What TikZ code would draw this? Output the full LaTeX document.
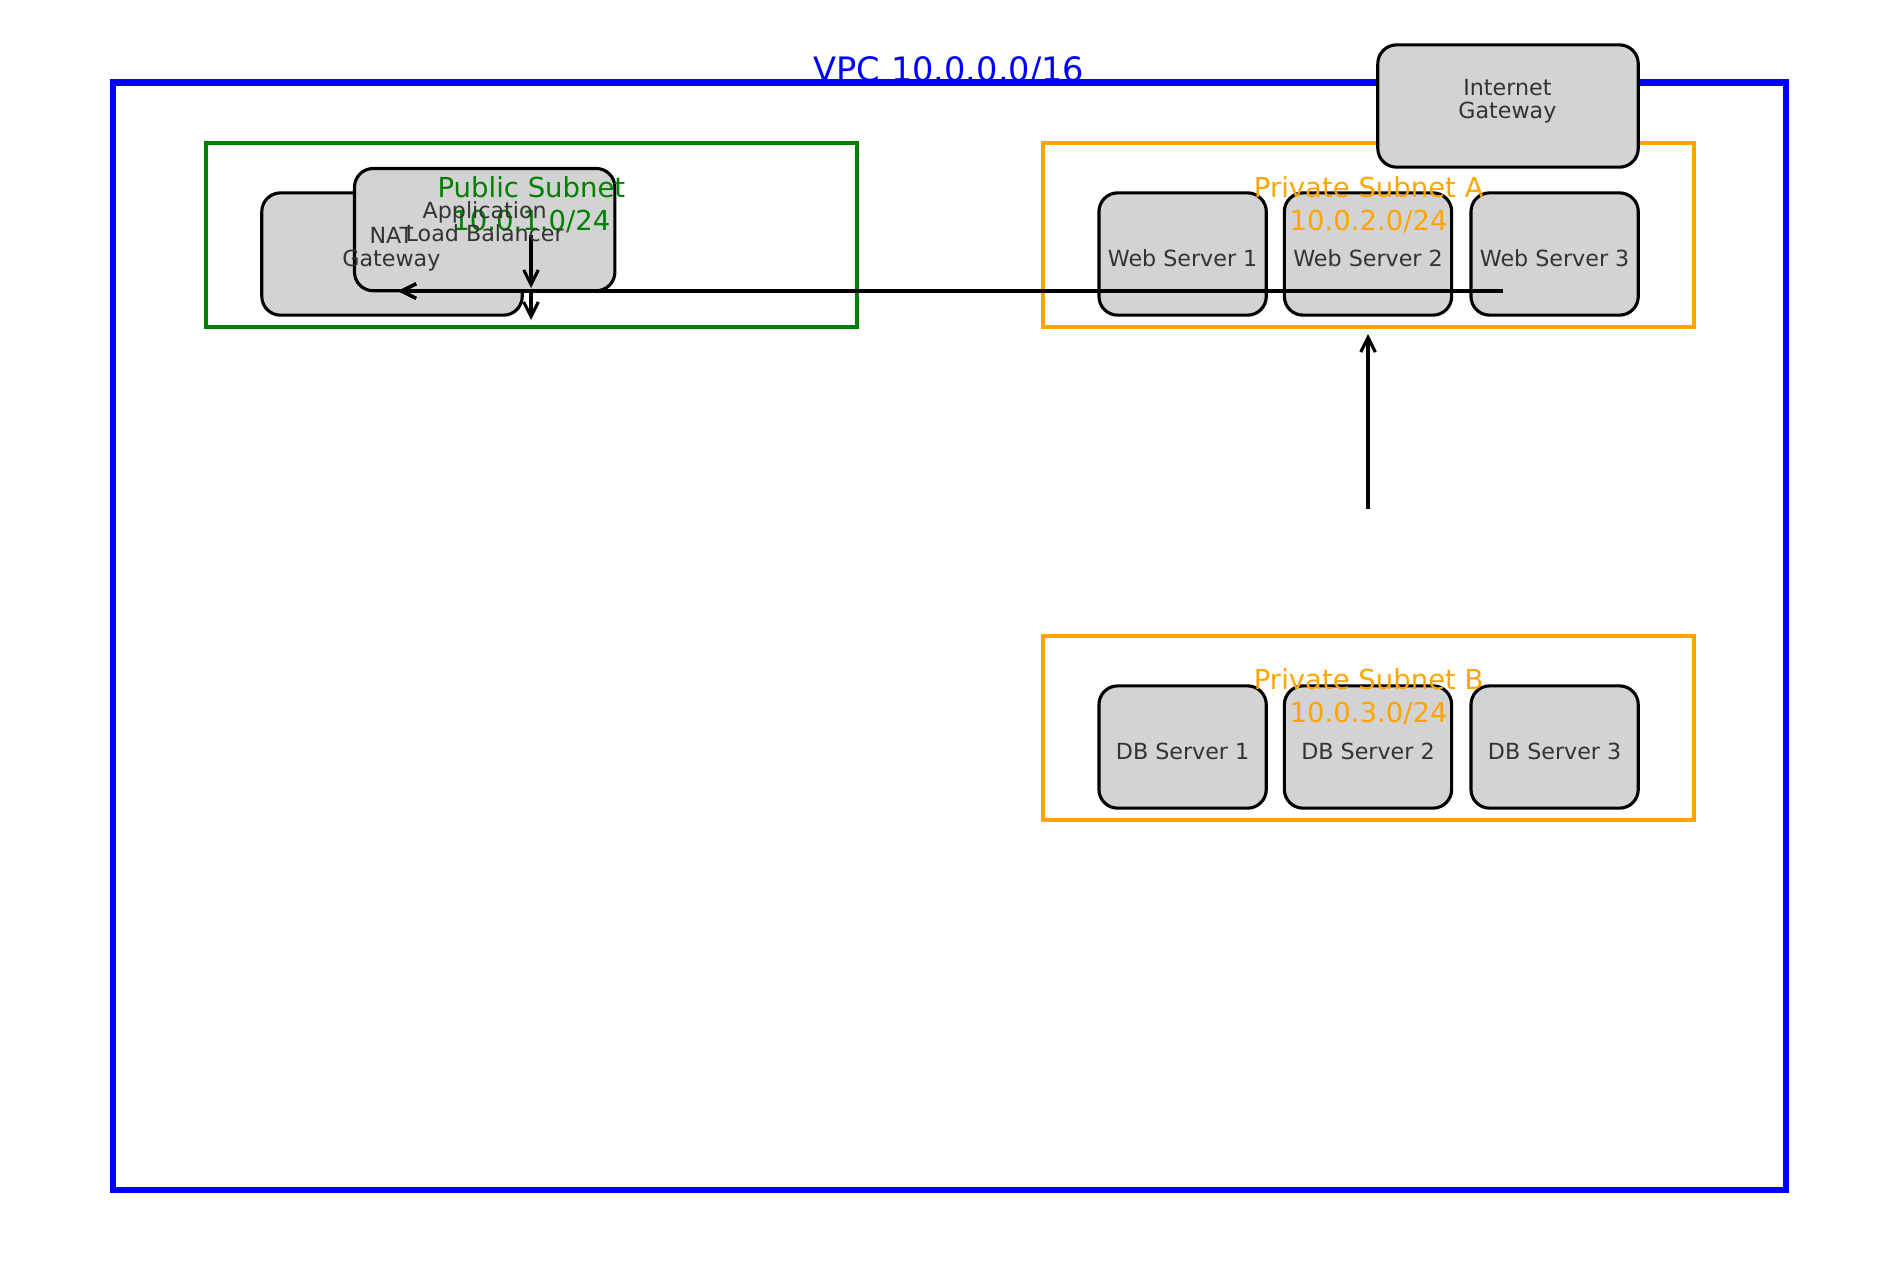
\documentclass[tikz,border=0pt]{standalone}
\usepackage{fontspec}
\setmainfont{DejaVu Sans}
\usetikzlibrary{arrows.meta}
\definecolor{vpcblue}{RGB}{0,0,255}
\definecolor{pubgreen}{RGB}{0,128,0}
\definecolor{privorange}{RGB}{255,165,0}
\definecolor{boxgray}{RGB}{211,211,211}
\definecolor{labelgray}{HTML}{333333}
\tikzset{
	box/.style={draw=black, fill=boxgray, line width=1.5bp, rounded corners=9bp, inner sep=0pt},
	widebox/.style={box, minimum width=125bp, minimum height=58.7bp},
	srvbox/.style={box, minimum width=80.3bp, minimum height=58.7bp},
	boxtext/.style={text=labelgray, align=center, inner sep=0pt, font=\fontsize{10.7}{11.04}\selectfont},
	nettext/.style={align=center, inner sep=0pt, font=\fontsize{13.25}{15.84}\selectfont},
	link/.style={draw=black, line width=1.5bp, -{Straight Barb[length=7bp,width=7bp]}}
}

\begin{document}
\begin{tikzpicture}[x=0.48bp, y=-0.48bp]
		%%%%% START %%%%%
		\useasboundingbox (0,0) rectangle (1900,1272);
		
		\draw[vpcblue, line width=3bp] (112.7,82.4) rectangle (1786,1190);
		\draw[pubgreen, line width=2bp] (206,143) rectangle (856.7,327.2);
		\draw[privorange, line width=2bp] (1043.3,143) rectangle (1694,327.2);
		\draw[privorange, line width=2bp] (1043.3,636.1) rectangle (1694,820.3);
		
		\node[widebox] (nat) at (392,254) {};
		\node[widebox] (alb) at (484.7,229.6) {};
		\node[widebox] (igw) at (1508,106) {};
		\foreach \i/\x in {1/1182.6, 2/1368, 3/1554.6} {
			\node[srvbox] (web\i) at (\x,254) {};
			\node[srvbox] (db\i) at (\x,747) {};
		}
		
		\coordinate (albout) at (531,235);
		\coordinate (albin) at (531,288);
		\coordinate (pubin) at (531,320);
		\coordinate (natin) at (398,291);
		\coordinate (dbout) at (1368,509);
		\coordinate (webin) at (1368,334);
		\draw[link] (albout) -- (albin);
		\draw[link] (531,291) -- (pubin);
		\foreach \i/\x in {1/1130, 2/1316, 3/1503} {
			\coordinate (web\i out) at (\x,291);
			\draw[link] (web\i out) -- (natin);
		}
		\draw[link] (dbout) -- (webin);
		
		\node[anchor=base, inner sep=0pt, text=vpcblue, font=\fontsize{16.2}{19}\selectfont] (vpclbl) at (949,81.5) {VPC 10.0.0.0/16};
		\node[nettext, text=pubgreen] (publbl) at (531.4,205) {Public Subnet\\10.0.1.0/24};
		\node[nettext, text=privorange] (privalbl) at (1368.7,204.5) {Private Subnet A\\10.0.2.0/24};
		\node[nettext, text=privorange] (privblbl) at (1368.7,697) {Private Subnet B\\10.0.3.0/24};
		
		\node[boxtext] (natlbl) at (391.4,249) {NAT\\Gateway};
		\node[boxtext] (alblbl) at (484.7,221.7) {Application\\Load Balancer};
		\node[boxtext] (igwlbl) at (1507.4,101) {Internet\\Gateway};
		\foreach \i/\x in {1/1182.6, 2/1368, 3/1554.6} {
			\node[boxtext, anchor=base] (web\i lbl) at (\x,266) {Web Server \i};
			\node[boxtext, anchor=base] (db\i lbl) at (\x,759) {DB Server \i};
		}
		%%%%% END %%%%%
	\end{tikzpicture}
\end{document}
